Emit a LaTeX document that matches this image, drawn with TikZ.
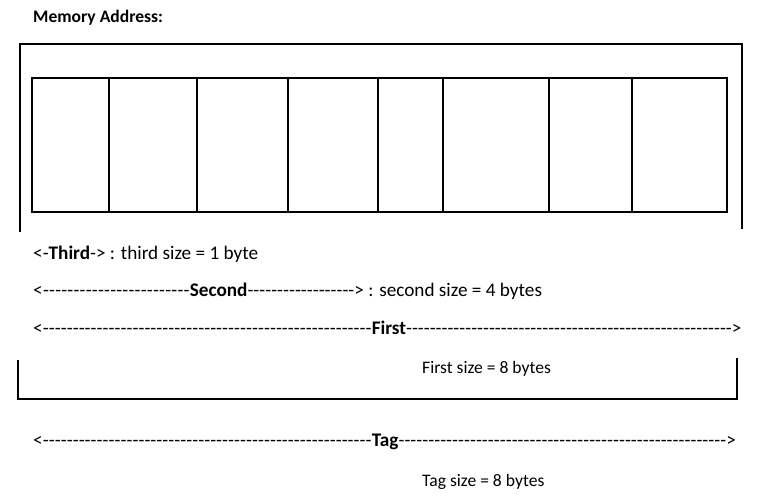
\documentclass[tikz,border=0pt]{standalone}
\usepackage{fontspec}
\setmainfont{Carlito}
\usetikzlibrary{positioning}
\newcommand{\dashrun}[1]{\hbox to #1{\xleaders\hbox{-}\hfill}}

\begin{document}
\begin{tikzpicture}[x=0.03cm, y=-0.03cm,
    txt/.style={anchor=base west, inner sep=0pt, font=\fontsize{15}{18}\selectfont},
    bigtxt/.style={txt, font=\fontsize{16.4}{19}\selectfont},
    rule/.style={line width=1.6pt},
  ]
  \useasboundingbox (0,0) rectangle (765,503);

  % Title
  \node[txt, font=\fontsize{15}{18}\selectfont\bfseries] (title) at (33,22) {Memory Address:};

  % Outer bracket and memory cells
  \draw[rule] (20,232) -- (20,44) -- (742,44) -- (742,229);
  \draw[rule] (32,78) rectangle (727,212);
  \foreach \x in {109,197,288,378,443,549,632}
    \draw[rule] (\x,78) -- (\x,212);

  % Field widths
  \node[bigtxt] (third) at (33,259) {<-\textbf{Third}-> : third size = 1 byte};
  \node[bigtxt] (second) at (33,296) {<\dashrun{4.41cm}\textbf{Second}\dashrun{3.21cm}> : second size = 4 bytes};
  \node[bigtxt] (first) at (33,334) {<\dashrun{9.87cm}\textbf{First}\dashrun{9.78cm}>};

  % Lower bracket
  \draw[rule] (18,360) -- (18,399) -- (737,399) -- (737,358);
  \node[txt] (firstsize) at (422,373) {First size = 8 bytes};

  % Tag
  \node[bigtxt] (tag) at (33,446) {<\dashrun{9.87cm}\textbf{Tag}\dashrun{9.84cm}>};
  \node[txt] (tagsize) at (422,486) {Tag size = 8 bytes};
\end{tikzpicture}
\end{document}
